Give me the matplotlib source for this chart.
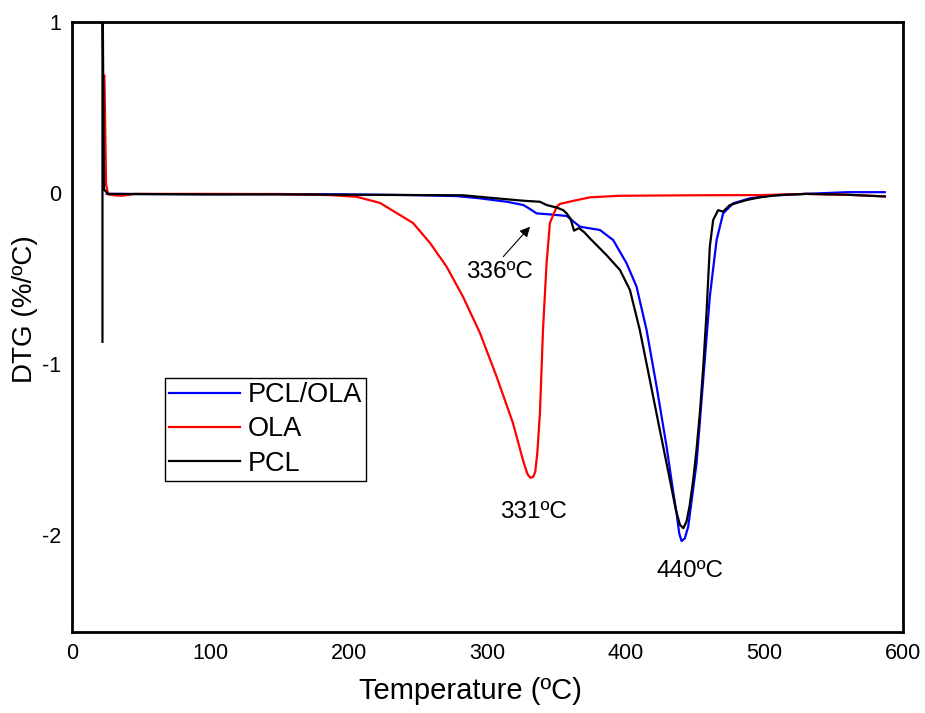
import matplotlib
matplotlib.use("Agg")
import matplotlib.pyplot as plt

plt.rcParams['font.family'] = ['Liberation Sans', 'DejaVu Sans']
plt.rcParams['axes.unicode_minus'] = False

# PCL (black)
t_pcl = [21.9, 21.9, 23.0, 26, 50, 100, 150, 200, 250, 282, 306.6, 325.9, 337.9,
         342.7, 350, 354.7, 357.2, 360, 362.5, 366, 370, 374, 386, 395.7, 402.9,
         410, 417.3, 424.5, 431.8, 436, 439, 441.5, 443.8, 446, 448.6, 451, 453.4,
         456, 458.2, 460.6, 463, 466.6, 470.2, 475.1, 487.1, 496.8, 510, 530, 560, 587]
dtg_pcl = [-0.87, 1.3, 0.02, -0.005, -0.006, -0.008, -0.008, -0.01, -0.012, -0.013,
           -0.031, -0.045, -0.051, -0.07, -0.085, -0.10, -0.119, -0.15, -0.22, -0.205,
           -0.23, -0.265, -0.363, -0.45, -0.567, -0.80, -1.094, -1.386, -1.678, -1.85,
           -1.94, -1.96, -1.92, -1.83, -1.678, -1.50, -1.288, -1.0, -0.704, -0.314,
           -0.158, -0.10, -0.109, -0.07, -0.041, -0.025, -0.012, -0.005, -0.01, -0.02]

# PCL/OLA (blue)
t_blend = [25, 50, 100, 150, 200, 246, 277.7, 294.6, 313.9, 325.9, 331, 335.5, 345,
           357.2, 366.8, 381.2, 390.8, 400.5, 407.7, 414.9, 422.2, 429.4, 434, 436.6,
           438.5, 440.2, 442.5, 445, 451, 455.8, 460.6, 465.5, 470.2, 477.5, 489.5,
           505, 530, 560, 587]
dtg_blend = [-0.005, -0.006, -0.007, -0.006, -0.008, -0.012, -0.018, -0.031, -0.051,
             -0.07, -0.095, -0.119, -0.125, -0.134, -0.197, -0.216, -0.275, -0.411,
             -0.548, -0.80, -1.133, -1.484, -1.74, -1.873, -1.99, -2.035, -2.02, -1.951,
             -1.581, -1.094, -0.606, -0.275, -0.119, -0.06, -0.031, -0.015, -0.005,
             0.005, 0.005]

# OLA (red)
t_ola = [23.3, 24.5, 26, 32, 37, 45, 100, 150, 186.3, 205.6, 222.4, 234.4, 246.2,
         258.5, 270.5, 282.3, 294.6, 306.6, 318.4, 325.6, 327.5, 329, 331, 333, 334.5,
         336, 337.9, 340.1, 342.7, 345.1, 350, 352.3, 359.6, 374, 395.7, 450, 496.8,
         530, 560, 587]
dtg_ola = [0.686, 0.05, -0.008, -0.015, -0.015, -0.005, -0.005, -0.006, -0.012, -0.022,
           -0.058, -0.117, -0.175, -0.292, -0.431, -0.606, -0.819, -1.074, -1.345,
           -1.561, -1.61, -1.645, -1.665, -1.66, -1.63, -1.52, -1.287, -0.80, -0.41,
           -0.175, -0.08, -0.064, -0.05, -0.025, -0.016, -0.013, -0.012, -0.005,
           -0.01, -0.02]

fig = plt.figure(figsize=(9.25, 7.13), dpi=100)
ax = fig.add_axes([0.078, 0.1136, 0.898, 0.8555])

ax.plot(t_blend, dtg_blend, color='#0000ff', lw=1.6, label='PCL/OLA')
ax.plot(t_ola, dtg_ola, color='#ff0000', lw=1.6, label='OLA')
ax.plot(t_pcl, dtg_pcl, color='black', lw=1.6, label='PCL')

ax.set_xlim(0, 600)
ax.set_ylim(-2.567, 1)
ax.set_xticks([0, 100, 200, 300, 400, 500, 600])
ax.set_yticks([1, 0, -1, -2])
ax.tick_params(length=0, labelsize=15.5, pad=8)
for s in ax.spines.values():
    s.set_linewidth(2)

ax.set_xlabel('Temperature (ºC)', fontsize=21)
ax.set_ylabel('DTG (%/ºC)', fontsize=20)
ax.xaxis.set_label_coords(0.480, -0.0745)
ax.yaxis.set_label_coords(-0.041, 0.53)

ax.text(333.6, -1.863, '331ºC', fontsize=17.5, ha='center', va='center')
ax.text(446.2, -2.21, '440ºC', fontsize=17.5, ha='center', va='center')
ax.text(308.7, -0.459, '336ºC', fontsize=17.5, ha='center', va='center')
ax.annotate('', xy=(330.7, -0.197), xytext=(311.4, -0.372),
            arrowprops=dict(arrowstyle='-|>', color='black', lw=0.8, mutation_scale=15,
                            shrinkA=0, shrinkB=0))

leg = ax.legend(loc='upper left', bbox_to_anchor=(0.112, 0.416), borderaxespad=0,
                fontsize=19.5, fancybox=False, edgecolor='black', framealpha=1,
                handlelength=2.6, handletextpad=0.3, labelspacing=0.3, borderpad=0.15)
leg.get_frame().set_linewidth(1)

fig.savefig('out.png', dpi=100)
